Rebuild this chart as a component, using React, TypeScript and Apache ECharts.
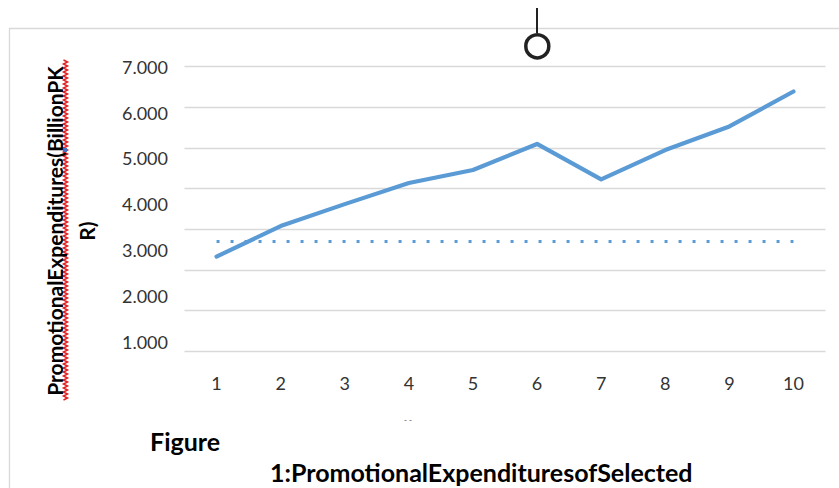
import React, { useEffect, useRef } from "react";
import * as echarts from "echarts";

const categories = ["1", "2", "3", "4", "5", "6", "7", "8", "9", "10"];
const expenditure = [2.33, 3.08, 3.62, 4.14, 4.46, 5.1, 4.23, 4.95, 5.53, 6.39];
const referenceLevel = [2.7, 2.7, 2.7, 2.7, 2.7, 2.7, 2.7, 2.7, 2.7, 2.7];
const yTickLabels = ["1.000", "2.000", "3.000", "4.000", "5.000", "6.000", "7.000"];
const yTitle = "PromotionalExpenditures(BillionPK\nR)";
const figureWord = "Figure";
const figureCaption = "1:PromotionalExpendituresofSelected";

export default function App() {
  const ref = useRef<HTMLDivElement>(null);
  useEffect(() => {
    if (!ref.current) return;
    const chart = echarts.init(ref.current, undefined, { renderer: "svg" });
    const wavy: number[][] = [];
    for (let y = 60, i = 0; y <= 401; y += 2, i++) {
      wavy.push([i % 2 === 0 ? 63.5 : 67.5, y]);
    }
    const font = "Lato";
    chart.setOption({
      animation: false,
      backgroundColor: "#ffffff",
      grid: [
        { left: 184.5, right: 13.5, top: 66.7, height: 284.6 },
        { left: 184.5, right: 13.5, top: 66.7, height: 275 },
      ],
      xAxis: [
        {
          type: "category",
          gridIndex: 0,
          data: categories,
          boundaryGap: true,
          axisLine: { show: false },
          axisTick: { show: false },
          axisLabel: { color: "#333333", fontSize: 18, fontFamily: font, margin: 23 },
        },
        { type: "category", gridIndex: 1, data: categories, show: false },
      ],
      yAxis: [
        {
          type: "value",
          gridIndex: 0,
          min: 0,
          max: 7,
          interval: 1,
          axisLine: { show: false },
          axisTick: { show: false },
          axisLabel: { show: false },
          splitLine: { lineStyle: { color: "#d9d9d9", width: 1.3 } },
        },
        {
          type: "value",
          gridIndex: 1,
          min: 1,
          max: 7,
          interval: 1,
          axisLine: { show: false },
          axisTick: { show: false },
          splitLine: { show: false },
          axisLabel: {
            color: "#333333",
            fontSize: 18,
            fontFamily: font,
            margin: 16.5,
            formatter: (v: number) => yTickLabels[Math.round(v) - 1] ?? "",
          },
        },
      ],
      series: [
        {
          type: "line",
          xAxisIndex: 0,
          yAxisIndex: 0,
          data: referenceLevel,
          symbol: "none",
          lineStyle: { color: "#5b9bd5", width: 3, type: [3, 11] },
        },
        {
          type: "line",
          xAxisIndex: 0,
          yAxisIndex: 0,
          data: expenditure,
          symbol: "none",
          lineStyle: { color: "#5b9bd5", width: 4.2, join: "round", cap: "round" },
        },
      ],
      graphic: [
        {
          type: "rect",
          shape: { x: 9.5, y: 28.5, width: 840, height: 470 },
          style: { fill: "none", stroke: "#d9d9d9", lineWidth: 1.3 },
          silent: true,
        },
        {
          type: "line",
          shape: { x1: 537, y1: 8, x2: 537, y2: 33 },
          style: { stroke: "#222222", lineWidth: 2 },
        },
        {
          type: "circle",
          shape: { cx: 537.3, cy: 46.3, r: 11.5 },
          style: { fill: "#ffffff", stroke: "#222222", lineWidth: 3.5 },
        },
        {
          type: "polyline",
          shape: { points: wavy },
          style: { stroke: "#e02020", lineWidth: 1.5, fill: "none" },
        },
        {
          type: "rect",
          shape: { x: 63, y: 148, width: 4, height: 4 },
          style: { fill: "#4472c4" },
        },
        {
          type: "text",
          x: 70,
          y: 231,
          rotation: Math.PI / 2,
          style: {
            text: yTitle,
            fontFamily: font,
            fontWeight: "bold",
            fontSize: 21,
            lineHeight: 32,
            align: "center",
            verticalAlign: "middle",
            fill: "#000000",
          },
        },
        {
          type: "text",
          x: 404,
          y: 420,
          style: { text: "- -", fontFamily: font, fontSize: 8, fill: "#404040", verticalAlign: "middle" },
        },
        {
          type: "text",
          x: 150,
          y: 441,
          style: {
            text: figureWord,
            fontFamily: font,
            fontWeight: "bold",
            fontSize: 25,
            fill: "#000000",
            verticalAlign: "middle",
          },
        },
        {
          type: "text",
          x: 270,
          y: 472,
          style: {
            text: figureCaption,
            fontFamily: font,
            fontWeight: "bold",
            fontSize: 25,
            fill: "#000000",
            verticalAlign: "middle",
          },
        },
      ],
    });
    return () => chart.dispose();
  }, []);
  return (
    <div
      ref={ref}
      style={{ position: "fixed", left: 0, top: 0, width: 839, height: 488 }}
    />
  );
}
